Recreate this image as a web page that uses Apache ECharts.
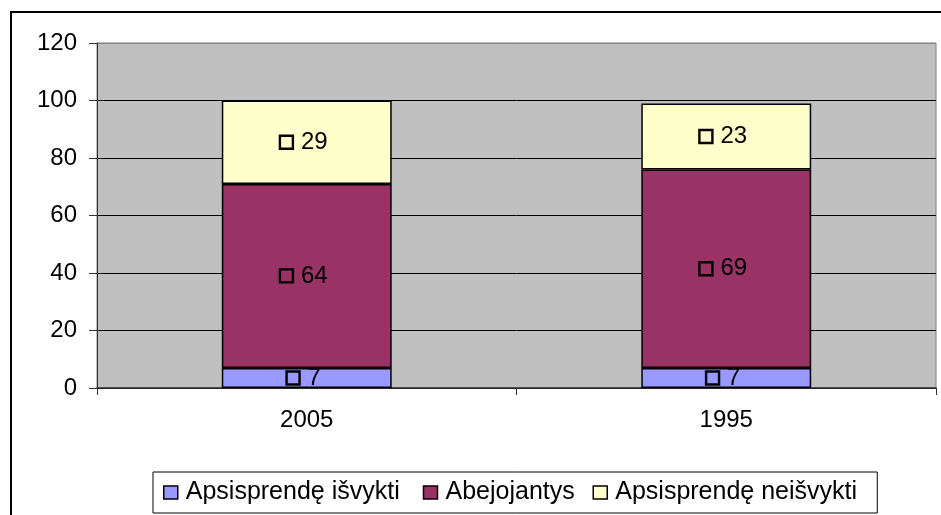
<!DOCTYPE html>
<html><head><meta charset="utf-8">
<script src="https://cdn.jsdelivr.net/npm/echarts@6/dist/echarts.min.js"></script>
<style>html,body{margin:0;padding:0;background:#fff}#c{width:941px;height:515px}</style>
</head><body><div id="c"></div>
<script>
const categories = ['2005', '1995'];
const seriesNames = ['Apsisprendę išvykti', 'Abejojantys', 'Apsisprendę neišvykti'];
const decidedLeave = [7, 7];
const doubting = [64, 69];
const decidedStay = [29, 23];
const seriesColors = ['#9999FF', '#993366', '#FFFFCC'];
const yTicks = [0, 20, 40, 60, 80, 100, 120];

const FONT = 'Liberation Sans, Arial, sans-serif';
const chart = echarts.init(document.getElementById('c'));
const values = [decidedLeave, doubting, decidedStay];
const legendTextWidths = [227, 137, 252];

const labelCfg = {
  show: true,
  position: 'inside',
  offset: [-3, 0],
  formatter: p => '{box|}{sp|}{v|' + p.value + '}',
  rich: {
    box: { width: 13, height: 13, borderColor: '#000', borderWidth: 1.2, backgroundColor: 'transparent' },
    sp: { width: 8 },
    v: { fontFamily: FONT, fontSize: 24, color: '#000' }
  }
};

chart.setOption({
  animation: false,
  textStyle: { fontFamily: FONT },
  graphic: [{
    type: 'rect', silent: true,
    shape: { x: 11, y: 12, width: 1000, height: 600 },
    style: { fill: 'none', stroke: '#000', lineWidth: 2 }
  }],
  grid: {
    left: 97, right: 5, top: 43, bottom: 127,
    show: true, backgroundColor: '#C0C0C0', borderColor: '#808080', borderWidth: 1
  },
  legend: {
    data: seriesNames,
    left: 153, top: 472,
    padding: [8, 10, 8, 10],
    itemGap: 10,
    itemWidth: 14, itemHeight: 13,
    icon: 'rect',
    borderColor: '#000', borderWidth: 1,
    itemStyle: { borderColor: '#000', borderWidth: 1.5 },
    formatter: name => '{s|}{t' + seriesNames.indexOf(name) + '|' + name + '}',
    textStyle: {
      fontFamily: FONT, fontSize: 25, color: '#000',
      rich: {
        s: { width: 3 },
        t0: { width: legendTextWidths[0], fontSize: 25, lineHeight: 25, fontFamily: FONT },
        t1: { width: legendTextWidths[1], fontSize: 25, lineHeight: 25, fontFamily: FONT },
        t2: { width: legendTextWidths[2], fontSize: 25, lineHeight: 25, fontFamily: FONT }
      }
    }
  },
  xAxis: {
    type: 'category',
    data: categories,
    boundaryGap: true,
    axisLine: { lineStyle: { color: '#333', width: 1.5 } },
    axisTick: { show: true, length: 7, lineStyle: { color: '#333' } },
    axisLabel: { fontFamily: FONT, fontSize: 24, color: '#000', margin: 20 },
    splitLine: { show: false }
  },
  yAxis: {
    type: 'value',
    min: yTicks[0], max: yTicks[yTicks.length - 1], interval: 20,
    axisLine: { show: true, lineStyle: { color: '#333', width: 1 } },
    axisTick: { show: true, length: 8, lineStyle: { color: '#333' } },
    axisLabel: { fontFamily: FONT, fontSize: 24, color: '#000', margin: 20 },
    splitLine: { show: true, lineStyle: { color: ['#000', '#000', '#000', '#000', '#000', '#000', '#808080'], width: 1 } }
  },
  series: seriesNames.map((n, i) => ({
    name: n,
    type: 'bar',
    stack: 'total',
    barWidth: '40.5%',
    data: values[i],
    itemStyle: { color: seriesColors[i], borderColor: '#000', borderWidth: 1.5 },
    label: labelCfg
  }))
});
</script></body></html>
